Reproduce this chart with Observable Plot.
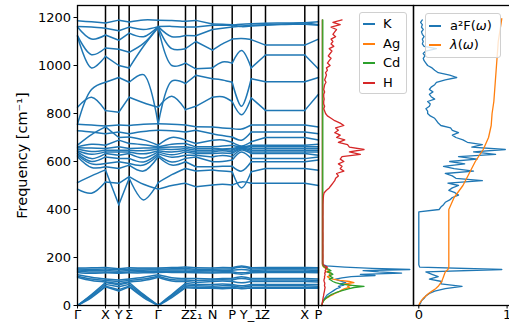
<!DOCTYPE html>
<html><head><meta charset="utf-8">
<script src="https://cdn.jsdelivr.net/npm/d3@7"></script>
<script src="https://cdn.jsdelivr.net/npm/@observablehq/plot@0.6"></script>
<style>
body{margin:0;background:#fff;overflow:hidden}
#wrap{position:relative;width:509px;height:326px;overflow:hidden;font-family:"DejaVu Sans",sans-serif;background:#fff}
#wrap svg{position:absolute;top:0}
.leg{position:absolute;border:1px solid #d0d0d0;border-radius:3px;background:rgba(255,255,255,0.8);box-sizing:border-box}
.row{position:absolute;left:0;height:16px;font-size:13px;line-height:16px;white-space:nowrap;color:#000}
.sw{position:absolute;top:7px;height:0;border-top:2px solid}
</style></head><body><div id="wrap"></div>
<script>
// ---- band structure: k-path positions and high-symmetry labels ----
const kpos = [0,14,28,41.3,51.7,66,80.7,94.3,108,118.3,135,145,154.7,164,173.7,188,207.7,227.3,241];
const symIdx = [0,2,3,4,6,8,9,10,12,14,15,17,18];
const symLabels = ["Γ","X","Y","Σ","Γ","Z","Σ₁","N","P","Y_1","Z","X","P"];
const freqTicks = [0,200,400,600,800,1000,1200];

// phonon bands (cm^-1) at each kpos
const bandsHigh = [
  [1186,1182,1177,1189,1181,1190,1189,1188,1184,1188,1173,1172,1170,1162,1165,1168,1173,1178,1170],
  [1162,1160,1155,1145,1160,1150,1162,1163,1160,1160,1168,1168,1168,1172,1174,1176,1177,1178,1182],
  [1160,1110,1127,1105,1135,1120,1162,1120,1125,1124,1150,1155,1160,1165,1168,1170,1171,1172,1168],
  [1125,1045,1073,1068,1055,1092,1160,1070,1070,1100,1064,1090,1110,1112,1108,1085,1085,1085,1110],
  [1122,990,1038,1000,990,1080,1158,1000,1010,986,990,1015,1010,1062,990,1044,1044,1044,985],
  [826,868,812,805,868,845,826,872,816,830,868,870,850,795,865,813,813,813,880],
  [755,900,930,950,930,962,755,935,925,959,945,940,930,830,945,932,932,932,950]
];
const bandsMid = [
  [755,752,748,752,750,755,757,755,752,745,744,740,737,735,752,752,752,752,744],
  [728,723,716,723,716,725,730,728,723,730,716,708,702,689,723,723,723,723,716],
  [668,712,744,700,702,690,668,700,689,675,689,690,680,665,682,700,700,700,690],
  [661,672,668,689,675,670,661,672,675,661,661,665,668,661,668,668,668,668,672],
  [657,656,654,661,654,656,657,660,661,654,654,652,654,660,661,661,661,661,661],
  [652,642,647,647,647,645,652,650,654,647,647,650,647,658,654,654,654,654,654],
  [645,630,640,640,640,632,645,640,647,640,640,645,640,655,647,647,647,647,647],
  [640,612,633,626,633,615,640,628,640,633,633,635,633,652,640,640,640,640,640],
  [633,600,619,613,613,598,633,618,626,626,619,625,620,648,633,633,633,633,626],
  [626,590,592,599,592,585,626,598,613,619,599,600,606,640,613,612,612,612,619],
  [620,575,578,571,585,560,620,585,599,578,578,580,580,560,599,599,599,599,606],
  [512,540,565,420,530,440,512,545,571,560,565,560,557,490,557,571,571,571,564],
  [485,468,515,509,537,505,485,500,509,495,502,505,502,515,509,509,509,509,500]
];
const bandsLow = [
  [156,157,158,153,157,156,156,158,160,157,156,158,157,165,157,158,158,158,157],
  [152,151,152,149,151,152,152,153,154,151,151,152,152,160,152,153,153,153,152],
  [148,146,146,143,146,147,148,148,148,147,146,146,147,150,146,148,148,148,146],
  [143,140,140,138,140,141,143,143,142,141,140,141,141,136,141,142,142,142,141],
  [138,134,136,134,136,136,138,138,137,136,135,136,136,130,136,137,137,137,136],
  [128,118,110,106,110,118,128,116,112,112,110,112,113,120,112,112,112,112,110],
  [122,110,104,100,104,110,122,108,106,104,106,107,106,112,106,106,106,106,104],
  [118,104,98,92,98,104,118,102,100,96,100,102,100,95,100,100,100,100,98],
  [0,46,96,86,96,46,0,46,92,88,88,90,88,82,88,88,88,88,88],
  [0,42,88,78,88,42,0,42,85,82,80,82,82,76,82,82,82,82,80],
  [0,38,80,66,80,38,0,38,78,76,74,74,76,70,74,75,75,75,75],
  [0,33,78,60,78,33,0,33,74,72,72,70,72,72,72,72,72,72,72]
];

// ---- projected DOS ----
const pdosLowFreq = d3.range(0,180,5);          // 0..175
const pdosHighFreq = d3.range(180,1200,10);     // 180..1190
const metalFreq = pdosLowFreq.concat([1190]);
const dosK  = [0,0.002,0.005,0.01,0.015,0.02,0.03,0.04,0.05,0.06,0.08,0.1,0.12,0.14,0.16,0.2,0.18,0.24,0.2,0.26,0.22,0.18,0.15,0.22,0.32,0.58,0.42,0.87,0.62,0.45,0.96,0.55,0.25,0.05,0.01,0.005,0.005];
const dosAg = [0,0.002,0.005,0.01,0.02,0.03,0.05,0.07,0.09,0.12,0.14,0.17,0.2,0.22,0.25,0.3,0.28,0.32,0.25,0.35,0.3,0.2,0.12,0.08,0.06,0.1,0.08,0.1,0.05,0.08,0.06,0.04,0.02,0.01,0.005,0.005,0.005];
const dosCd = [0,0.003,0.006,0.012,0.02,0.03,0.045,0.06,0.08,0.1,0.13,0.16,0.2,0.25,0.3,0.35,0.46,0.3,0.2,0.15,0.12,0.1,0.08,0.12,0.1,0.08,0.12,0.1,0.06,0.1,0.08,0.05,0.03,0.015,0.01,0.01,0.01];
const dosHLow = [0,0.002,0.004,0.006,0.008,0.01,0.012,0.015,0.018,0.02,0.022,0.025,0.028,0.03,0.032,0.035,0.03,0.028,0.032,0.03,0.025,0.022,0.025,0.03,0.028,0.032,0.035,0.03,0.04,0.035,0.045,0.04,0.06,0.03,0.015,0.012];
const dosHHigh = [
  0.012,0.011,0.012,0.012,0.011,0.012,0.012,0.012,0.011,0.012,
  0.012,0.012,0.012,0.011,0.012,0.012,0.012,0.012,0.012,0.011,
  0.012,0.012,0.012,0.012,0.012,0.013,0.014,0.016,0.018,
  0.025,0.05,0.08,0.1,0.12,0.14,0.15,0.18,0.16,0.24,
  0.2,0.22,0.18,0.24,0.2,0.22,0.42,0.3,0.46,0.3,
  0.28,0.18,0.25,0.16,0.2,0.14,0.18,0.15,0.24,0.2,
  0.14,0.1,0.06,0.04,0.03,0.02,0.03,0.02,0.02,0.025,
  0.02,0.02,0.03,0.02,0.025,0.03,0.045,0.03,0.04,0.05,
  0.04,0.06,0.05,0.09,0.06,0.08,0.1,0.07,0.09,0.11,
  0.08,0.13,0.1,0.12,0.1,0.15,0.12,0.14,0.16,0.1,
  0.2,0.12,0.22
];

// ---- Eliashberg function and lambda ----
const a2fFreq = d3.range(0,1200,10);
const a2fVal = [
  0,0.02,0.03,0.06,0.08,0.12,0.18,0.3,0.49,0.25,0.26,0.12,0.22,0.15,0.08,0.94,0.01,
  0,0,0,0,0,0,0,0,0,0,0,0,0,0,0,0,0,0,0,0,0,0,0,
  0.23,0.25,0.28,0.3,0.35,0.38,0.45,0.41,0.34,0.38,
  0.45,0.33,0.72,0.42,0.38,0.3,0.62,0.4,0.28,0.52,
  0.35,0.66,0.45,0.87,0.62,0.98,0.6,0.72,0.55,0.5,
  0.42,0.38,0.45,0.38,0.36,0.25,0.22,0.2,0.18,0.13,
  0.1,0.1,0.08,0.12,0.13,0.1,0.18,0.14,0.12,0.16,
  0.12,0.14,0.18,0.2,0.3,0.43,0.35,0.22,0.18,0.15,
  0.1,0.08,0.06,0.05,0.07,0.05,0.08,0.2,0.06,0.04,
  0.05,0.04,0.06,0.04,0.03,0.05,0.03,0.04,0.02,0.04
];
const lamFreq = [0,10,20,30,40,50,60,70,80,90,100,110,120,130,140,150,160,400,450,500,550,600,650,700,750,800,850,900,1000,1100,1195];
const lamVal  = [0,0.01,0.03,0.05,0.08,0.11,0.15,0.19,0.22,0.24,0.26,0.27,0.28,0.29,0.3,0.33,0.34,0.34,0.4,0.5,0.57,0.64,0.73,0.79,0.82,0.83,0.85,0.86,0.88,0.9,0.94];

// ---- build tables ----
const allBands = bandsHigh.concat(bandsMid, bandsLow);
const bandRows = [];
allBands.forEach((b, bi) => {
  for (let s = 0; s < symIdx.length - 1; s++) {
    for (let i = symIdx[s]; i <= symIdx[s+1]; i++) bandRows.push({k: kpos[i], f: b[i], id: bi + "-" + s});
  }
});
const tickVals = symIdx.map(i => kpos[i]);
const labelMap = new Map(tickVals.map((v, i) => [v, symLabels[i]]));
const toRows = (fs, vs) => fs.map((f, i) => ({f, v: vs[i]}));
const rowsK = toRows(metalFreq, dosK), rowsAg = toRows(metalFreq, dosAg), rowsCd = toRows(metalFreq, dosCd);
const rowsH = toRows(pdosLowFreq.concat(pdosHighFreq), dosHLow.concat(dosHHigh));
const rowsA2F = toRows(a2fFreq, a2fVal), rowsLam = toRows(lamFreq, lamVal);

const C = {blue:"#1f77b4", orange:"#ff7f0e", green:"#2ca02c", red:"#d62728"};
const common = {height: 326, marginTop: 5, marginBottom: 21,
  style: {fontFamily: "DejaVu Sans", fontSize: "13px", background: "transparent", overflow: "visible"}};
const yDom = [0, 1250];
const wrap = document.getElementById("wrap");

// panel 1: bands
const p1 = Plot.plot({...common, width: 318, marginLeft: 77, marginRight: 0,
  x: {domain: [0, 241]}, y: {domain: yDom},
  marks: [
    Plot.ruleX(tickVals.slice(1, -1), {stroke: "black", strokeWidth: 1.5}),
    Plot.line(bandRows, {x: "k", y: "f", z: "id", stroke: C.blue, strokeWidth: 1.5, curve: "catmull-rom"}),
    Plot.frame({stroke: "black", strokeWidth: 1.3}),
    Plot.axisY(freqTicks, {tickSize: 3.5, tickPadding: 3, label: null, fontSize: 13, tickFormat: d => String(d)}),
    Plot.axisX(tickVals, {tickSize: 3.5, tickPadding: 1, label: null, fontSize: 13, tickFormat: d => labelMap.get(d)}),
    Plot.text(["Frequency [cm⁻¹]"], {frameAnchor: "left", textAnchor: "middle", dx: -55, rotate: -90, fontSize: 14.5})
  ]});
p1.style.left = "0px";
wrap.appendChild(p1);

// panel 2: projected DOS
const p2 = Plot.plot({...common, width: 95, marginLeft: 0, marginRight: 0,
  x: {domain: [-0.037, 1], axis: null}, y: {domain: yDom, axis: null},
  marks: [
    Plot.line(rowsK, {x: "v", y: "f", stroke: C.blue, strokeWidth: 1.3}),
    Plot.line(rowsAg, {x: "v", y: "f", stroke: C.orange, strokeWidth: 1.3}),
    Plot.line(rowsCd, {x: "v", y: "f", stroke: C.green, strokeWidth: 1.3}),
    Plot.line(rowsH, {x: "v", y: "f", stroke: C.red, strokeWidth: 1.3}),
    Plot.frame({stroke: "black", strokeWidth: 1.3})
  ]});
p2.style.left = "318px";
wrap.appendChild(p2);

// panel 3: a2F and lambda
const p3 = Plot.plot({...common, width: 98, marginLeft: 0, marginRight: 0,
  x: {domain: [-0.06, 1.05]}, y: {domain: yDom, axis: null},
  marks: [
    Plot.line(rowsA2F, {x: "v", y: "f", stroke: C.blue, strokeWidth: 1.3}),
    Plot.line(rowsLam, {x: "v", y: "f", stroke: C.orange, strokeWidth: 1.3}),
    Plot.frame({stroke: "black", strokeWidth: 1.3}),
    Plot.axisX([0, 1], {tickSize: 3.5, tickPadding: 1, label: null, fontSize: 13})
  ]});
p3.style.left = "413px";
wrap.appendChild(p3);

// legends
function legend(left, top, w, h, items, sx, tx, y0, dy) {
  const box = document.createElement("div");
  box.className = "leg";
  Object.assign(box.style, {left: left + "px", top: top + "px", width: w + "px", height: h + "px"});
  items.forEach(([label, color], i) => {
    const r = document.createElement("div");
    r.className = "row";
    r.style.top = (y0 + i * dy) + "px";
    r.style.width = w + "px";
    r.innerHTML = `<span class="sw" style="left:${sx}px;width:12px;border-color:${color}"></span><span style="position:absolute;left:${tx}px">${label}</span>`;
    box.appendChild(r);
  });
  wrap.appendChild(box);
}
legend(359, 12, 48, 82, [["K", C.blue], ["Ag", C.orange], ["Cd", C.green], ["H", C.red]], 3, 23, 3, 19.5);
legend(425, 13, 76, 45, [["a²F(<i>ω</i>)", C.blue], ["<i>λ</i>(<i>ω</i>)", C.orange]], 3, 24, 4, 19);
</script></body></html>
